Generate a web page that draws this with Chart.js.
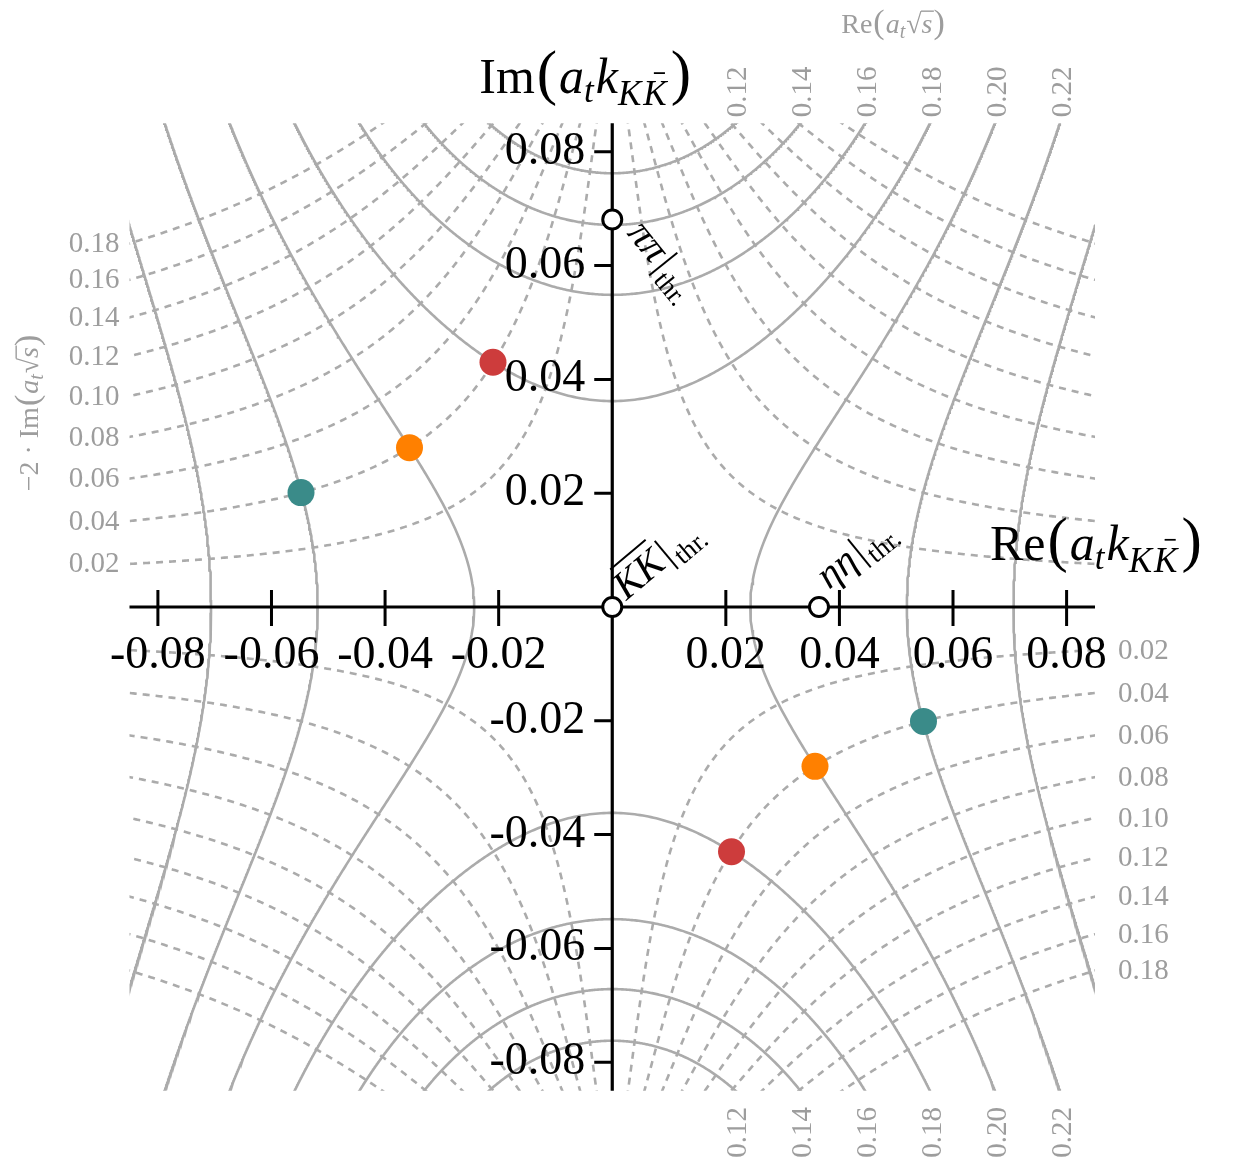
<!DOCTYPE html>
<html>
<head>
<meta charset="utf-8">
<script src="https://cdn.jsdelivr.net/npm/chart.js@4/dist/chart.umd.min.js"></script>
<style>
  html, body { margin: 0; padding: 0; background: #ffffff; }
  #wrap { width: 1245px; height: 1162px; position: relative; }
  canvas { display: block; }
</style>
</head>
<body>
<div id="wrap"><canvas id="kplane" width="1245" height="1162"></canvas></div>
<script>
// ---- data -----------------------------------------------------------------
// visible window of the complex KKbar momentum plane (a_t k)
const kMin = -0.085;
const kMax = 0.085;
const reTicks = [-0.08, -0.06, -0.04, -0.02, 0.02, 0.04, 0.06, 0.08];
const imTicks = [-0.08, -0.06, -0.04, -0.02, 0.02, 0.04, 0.06, 0.08];

// contour levels of Re(a_t sqrt(s)) (solid) and -2 Im(a_t sqrt(s)) (dashed)
const reSqrtSLevels = [0.12, 0.14, 0.16, 0.18, 0.20, 0.22, 0.24];
const reSqrtSLabels = ['0.12', '0.14', '0.16', '0.18', '0.20', '0.22'];
const widthLevels = [0.02, 0.04, 0.06, 0.08, 0.10, 0.12, 0.14, 0.16, 0.18];
const widthLabels = ['0.02', '0.04', '0.06', '0.08', '0.10', '0.12', '0.14', '0.16', '0.18'];

// kaon mass in lattice units, sets sqrt(s) = 2 sqrt(mK^2 + k^2)
const kaonMass = 0.0970;

// channel thresholds in the KKbar momentum plane
const thresholdNames = ['KK', 'pipi', 'etaeta'];
const thresholdRe = [0.0, 0.0, 0.0364];
const thresholdIm = [0.0, 0.0681, 0.0];

// poles (and their mirror images)
const poleRe = [-0.0210, -0.0357, -0.0548, 0.0210, 0.0357, 0.0548];
const poleIm = [0.0430, 0.0280, 0.0201, -0.0430, -0.0280, -0.0201];
const poleColors = ['#cd3c3c', '#ff8000', '#3a8b89', '#cd3c3c', '#ff8000', '#3a8b89'];

// ---- sqrt(s) -> k mapping --------------------------------------------------
function csqrt(re, im) {
  const r = Math.hypot(re, im);
  const sr = Math.sqrt(Math.max(0, (r + re) / 2));
  let si = Math.sqrt(Math.max(0, (r - re) / 2));
  if (im < 0) si = -si;
  return [sr, si];
}
// k (first quadrant) for w = sqrt(s)/2 = wr + i wi
function momentum(wr, wi) {
  const re = wr * wr - wi * wi - kaonMass * kaonMass;
  const im = 2 * wr * wi;
  return csqrt(re, im);
}

// curve of constant Re sqrt(s): w = L/2 + i b
function constReCurve(level) {
  const pts = [];
  for (let i = 0; i <= 1100; i++) {
    const b = i * 0.0002;
    const [x, y] = momentum(level / 2, b);
    pts.push({ x, y });
  }
  return pts;
}
// curve of constant Im sqrt(s): w = a + i c/4
function constImCurve(width) {
  const pts = [];
  for (let i = 0; i <= 1100; i++) {
    const a = i * 0.0002;
    const [x, y] = momentum(a, width / 4);
    pts.push({ x, y });
  }
  return pts;
}
// where a curve leaves the window through a given edge
function edgeCrossing(pts, axis, value) {
  const other = axis === 'x' ? 'y' : 'x';
  for (let i = 1; i < pts.length; i++) {
    const p = pts[i - 1], q = pts[i];
    if ((p[axis] - value) * (q[axis] - value) <= 0 && p[axis] !== q[axis]) {
      const t = (value - p[axis]) / (q[axis] - p[axis]);
      return p[other] + t * (q[other] - p[other]);
    }
  }
  return null;
}

const GRID_COLOR = '#ababab';
const LABEL_GREY = '#9d9d9d';
const datasets = [];
const quadrants = [[1, 1], [1, -1], [-1, 1], [-1, -1]];
function addMirrored(q1, style) {
  for (const [sx, sy] of quadrants) {
    datasets.push(Object.assign({
      data: q1.map(p => ({ x: sx * p.x, y: sy * p.y })),
      showLine: true, pointRadius: 0, pointHoverRadius: 0, fill: false,
      borderColor: GRID_COLOR, borderWidth: 2.6, tension: 0, order: 2
    }, style));
  }
}

const reCurves = reSqrtSLevels.map(constReCurve);
const imCurves = widthLevels.map(constImCurve);
reCurves.forEach(c => addMirrored(c, {}));
imCurves.forEach(c => addMirrored(c, { borderDash: [7, 6], borderWidth: 2.6 }));

const thresholdIndex = datasets.length;
datasets.push({
  data: thresholdRe.map((x, i) => ({ x, y: thresholdIm[i] })),
  showLine: false, pointRadius: 9.5, pointHoverRadius: 9.5,
  pointBackgroundColor: '#ffffff', pointBorderColor: '#000000', pointBorderWidth: 3,
  order: 1
});
datasets.push({
  data: poleRe.map((x, i) => ({ x, y: poleIm[i] })),
  showLine: false, pointRadius: 13.5, pointHoverRadius: 13.5,
  pointBackgroundColor: poleColors, pointBorderWidth: 0,
  order: 0
});

// ---- text helpers ----------------------------------------------------------
const SERIF = '"Liberation Serif", "Times New Roman", serif';
function fontOf(r) { return (r.it ? 'italic ' : '') + r.f + 'px ' + SERIF; }
function drawMath(ctx, runs, x, y, opt) {
  opt = opt || {};
  ctx.save();
  ctx.translate(x, y);
  if (opt.rot) ctx.rotate(opt.rot);
  const widths = runs.map(r => { ctx.font = fontOf(r); return ctx.measureText(r.t).width; });
  let total = 0;
  runs.forEach((r, i) => { total += widths[i] + (r.dx || 0); });
  let cx = opt.align === 'center' ? -total / 2 : opt.align === 'right' ? -total : 0;
  ctx.textBaseline = 'alphabetic';
  ctx.textAlign = 'left';
  ctx.fillStyle = opt.color || '#000';
  ctx.strokeStyle = opt.color || '#000';
  runs.forEach((r, i) => {
    cx += r.dx || 0;
    ctx.font = fontOf(r);
    ctx.fillText(r.t, cx, r.dy || 0);
    if (r.bar) {
      const by = (r.dy || 0) - r.f * (r.barH || 0.8);
      ctx.lineWidth = Math.max(1.2, r.f * 0.05);
      ctx.beginPath();
      ctx.moveTo(cx + r.f * (r.barL || 0.15), by);
      ctx.lineTo(cx + widths[i] + r.f * (r.barR || 0.05), by);
      ctx.stroke();
    }
    cx += widths[i];
  });
  ctx.restore();
}

// ---- axes, ticks and annotations -------------------------------------------
function drawAxes(chart) {
  const { ctx, chartArea: a } = chart;
  const xs = chart.scales.x, ys = chart.scales.y;
  const x0 = xs.getPixelForValue(0), y0 = ys.getPixelForValue(0);
  ctx.save();
  ctx.strokeStyle = '#000';
  ctx.lineWidth = 3.2;
  ctx.lineCap = 'butt';
  ctx.beginPath();
  ctx.moveTo(a.left, y0); ctx.lineTo(a.right, y0);
  ctx.moveTo(x0, a.top); ctx.lineTo(x0, a.bottom);
  ctx.stroke();
  ctx.lineWidth = 3;
  ctx.beginPath();
  reTicks.forEach(v => {
    const px = xs.getPixelForValue(v);
    ctx.moveTo(px, y0 - 17); ctx.lineTo(px, y0 + 19);
  });
  imTicks.forEach(v => {
    const py = ys.getPixelForValue(v);
    ctx.moveTo(x0 - 18, py); ctx.lineTo(x0, py);
  });
  ctx.stroke();
  ctx.restore();
}

function fmt(v) { return (v < 0 ? '-' : '') + Math.abs(v).toFixed(2); }

function drawLabels(chart) {
  const { ctx, chartArea: a } = chart;
  const xs = chart.scales.x, ys = chart.scales.y;
  const x0 = xs.getPixelForValue(0), y0 = ys.getPixelForValue(0);
  ctx.save();
  // main tick labels
  ctx.fillStyle = '#000';
  ctx.font = '46px ' + SERIF;
  ctx.textBaseline = 'alphabetic';
  ctx.textAlign = 'center';
  reTicks.forEach(v => ctx.fillText(fmt(v), xs.getPixelForValue(v), y0 + 61));
  ctx.textAlign = 'right';
  imTicks.forEach(v => ctx.fillText(fmt(v), x0 - 27, ys.getPixelForValue(v) + 12));

  // contour labels of Re sqrt(s): top and bottom edges
  ctx.fillStyle = LABEL_GREY;
  ctx.font = '29px ' + SERIF;
  reSqrtSLabels.forEach((lab, i) => {
    const xe = edgeCrossing(reCurves[i], 'y', kMax);
    if (xe === null) return;
    const px = xs.getPixelForValue(xe) + 1;
    // top
    ctx.save();
    ctx.translate(px + 10, a.top - 6);
    ctx.rotate(-Math.PI / 2);
    ctx.textAlign = 'left';
    ctx.textBaseline = 'alphabetic';
    ctx.fillText(lab, 0, 0);
    ctx.restore();
    // bottom
    ctx.save();
    ctx.translate(px + 10, a.bottom + 67);
    ctx.rotate(-Math.PI / 2);
    ctx.textAlign = 'left';
    ctx.textBaseline = 'alphabetic';
    ctx.fillText(lab, 0, 0);
    ctx.restore();
  });
  // contour labels of -2 Im sqrt(s): left and right edges
  widthLabels.forEach((lab, i) => {
    const ye = edgeCrossing(imCurves[i], 'x', kMax);
    if (ye === null) return;
    ctx.textBaseline = 'middle';
    ctx.textAlign = 'right';
    ctx.fillText(lab, a.left - 10, ys.getPixelForValue(ye) + 1);
    ctx.textAlign = 'left';
    ctx.fillText(lab, a.right + 23, ys.getPixelForValue(-ye) + 1);
  });

  // axis titles
  const big = 50, par = 61, sub = 35;
  const kRuns = [
    { t: '(', f: par, dx: 2 },
    { t: 'a', f: big, it: true, dx: 2 },
    { t: 't', f: sub, it: true, dy: 9 },
    { t: 'k', f: big, it: true, dx: 2 },
    { t: 'K', f: sub, it: true, dy: 12 },
    { t: 'K', f: sub, it: true, dy: 12, dx: 2, bar: true, barH: 0.92, barL: 0.3, barR: -0.05 },
    { t: ')', f: par, dx: 4 }
  ];
  drawMath(ctx, [{ t: 'Im', f: big }].concat(kRuns), x0 - 133, a.top - 30);
  drawMath(ctx, [{ t: 'Re', f: big }].concat(kRuns), a.right - 105, y0 - 47);

  const g = 28, gp = 34, gs = 20;
  const sRuns = [
    { t: '(', f: gp, dx: 1 },
    { t: 'a', f: g, it: true, dx: 1 },
    { t: 't', f: gs, it: true, dy: 5 },
    { t: '\u221A', f: g, dx: 1 },
    { t: 's', f: g, it: true, bar: true, barH: 0.78, barL: -0.02, barR: 0.05 },
    { t: ')', f: gp, dx: 1 }
  ];
  drawMath(ctx, [{ t: 'Re', f: g }].concat(sRuns), 893, 33, { align: 'center', color: LABEL_GREY });
  drawMath(ctx, [{ t: '\u22122 \u00B7 Im', f: g }].concat(sRuns), 38, 413,
    { align: 'center', color: LABEL_GREY, rot: -Math.PI / 2 });

  // threshold annotations
  const tf = 40, tsub = 27;
  const thr = [{ t: '|', f: 40, dx: 3 }, { t: 'thr.', f: tsub, dy: 9, dx: 2 }];
  const kx = xs.getPixelForValue(thresholdRe[0]), ky = ys.getPixelForValue(thresholdIm[0]);
  drawMath(ctx, [{ t: 'KK', f: tf, it: true, bar: true, barH: 0.86, barL: 0.2, barR: 0.02 }].concat(thr),
    kx + 14, ky - 6, { rot: -40 * Math.PI / 180 });
  const px = xs.getPixelForValue(thresholdRe[1]), py = ys.getPixelForValue(thresholdIm[1]);
  drawMath(ctx, [{ t: '\u03C0\u03C0', f: tf, it: true }].concat(thr),
    px + 14, py + 14, { rot: 51 * Math.PI / 180 });
  const ex = xs.getPixelForValue(thresholdRe[2]), ey = ys.getPixelForValue(thresholdIm[2]);
  drawMath(ctx, [{ t: '\u03B7\u03B7', f: tf, it: true }].concat(thr),
    ex + 10, ey - 17, { rot: -39 * Math.PI / 180 });
  ctx.restore();
}

const kplanePlugin = {
  id: 'kplaneAxes',
  beforeDatasetDraw(chart, args) {
    if (args.index === thresholdIndex) drawAxes(chart);
  },
  afterDraw(chart) { drawLabels(chart); }
};

new Chart(document.getElementById('kplane'), {
  type: 'scatter',
  data: { datasets },
  options: {
    responsive: false,
    devicePixelRatio: 1,
    animation: false,
    events: [],
    layout: { padding: { left: 129.5, right: 150, top: 123.3, bottom: 71.3 } },
    scales: {
      x: { type: 'linear', min: kMin, max: kMax, display: false },
      y: { type: 'linear', min: kMin, max: kMax, display: false }
    },
    plugins: { legend: { display: false }, tooltip: { enabled: false } },
    elements: { line: { borderCapStyle: 'butt' } }
  },
  plugins: [kplanePlugin]
});
</script>
</body>
</html>
